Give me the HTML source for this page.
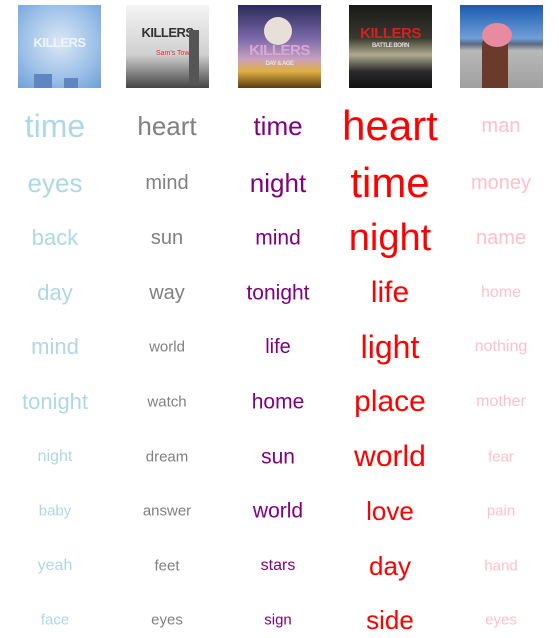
<!DOCTYPE html>
<html><head><meta charset="utf-8"><style>
body{margin:0;background:#fff;width:559px;height:638px;overflow:hidden;position:relative;font-family:"Liberation Sans",sans-serif}
.cover{position:absolute;top:5px;width:83px;height:83px;overflow:hidden}
.cover .t{position:absolute;width:100%;text-align:center;font-weight:bold;letter-spacing:-0.5px}
.w{position:absolute;transform:translate(-50%,-50%);white-space:nowrap;line-height:1}
</style></head><body>
<div class="cover" style="left:18px;background:radial-gradient(circle at 50% 45%,#dce8f6,#9cc0e8 60%,#6e9fd8)">
<div class="t" style="top:30px;color:#eef4fb;font-size:13px">KILLERS</div>
<div style="position:absolute;bottom:0;left:16px;width:18px;height:14px;background:#5f86c0"></div>
<div style="position:absolute;bottom:0;left:46px;width:14px;height:10px;background:#5f86c0"></div>
</div>
<div class="cover" style="left:126px;background:linear-gradient(#f4f4f4,#d0d0d0 60%,#444)">
<div class="t" style="top:20px;color:#333;font-size:13px">KILLERS</div>
<div style="position:absolute;top:45px;left:30px;font-size:7px;color:#c33">Sam's Town</div>
<div style="position:absolute;top:25px;right:10px;width:10px;height:55px;background:#555"></div>
</div>
<div class="cover" style="left:238px;background:linear-gradient(#2a2a5a,#7a68a8 40%,#c8a0c0 65%,#e0b040 80%,#5a3a10)">
<div style="position:absolute;top:12px;left:26px;width:28px;height:28px;border-radius:50%;background:#e8e0d8"></div>
<div class="t" style="top:37px;color:#d8a8d8;font-size:15px">KILLERS</div>
<div class="t" style="top:56px;color:#eedde8;font-size:6px">DAY &amp; AGE</div>
</div>
<div class="cover" style="left:349px;background:linear-gradient(#181818,#3a3a30 40%,#b0ac90 60%,#2a2a2a 80%,#111)">
<div class="t" style="top:20px;color:#d42020;font-size:15px">KILLERS</div>
<div class="t" style="top:38px;color:#ddd;font-size:6px">BATTLE BORN</div>
</div>
<div class="cover" style="left:460px;background:linear-gradient(#1a5ab0,#6fa0d8 40%,#5a6a80 47%,#b8b8b8 55%,#a0a0a0)">
<div style="position:absolute;top:30px;left:22px;width:26px;height:53px;background:#6a3a2a;border-radius:10px 10px 0 0"></div>
<div style="position:absolute;top:18px;left:22px;width:30px;height:24px;border-radius:50%;background:#e88aa0"></div>
</div>
<script>
const xs=[55,167,278,390,501];
const ys=[126,183,238,293,347,402,457,511,566,620];
const colors=["#add8e6","#808080","#800080","#ff0000","#ffc0cb"];
const wordsHotFuss=["time","eyes","back","day","mind","tonight","night","baby","yeah","face"];
const sizesHotFuss=[32,26,22,22,22,22,16,15,16,15];
const wordsSamsTown=["heart","mind","sun","way","world","watch","dream","answer","feet","eyes"];
const sizesSamsTown=[26,20,20,20,15,15,15,15,15,15];
const wordsDayAge=["time","night","mind","tonight","life","home","sun","world","stars","sign"];
const sizesDayAge=[26,26,21,21,20,21,21,21,16,15];
const wordsBattleBorn=["heart","time","night","life","light","place","world","love","day","side"];
const sizesBattleBorn=[42,42,38,30,32,30,30,26,26,26];
const wordsWonderful=["man","money","name","home","nothing","mother","fear","pain","hand","eyes"];
const sizesWonderful=[20,20,20,16,16,16,15,15,15,15];
const words=[wordsHotFuss,wordsSamsTown,wordsDayAge,wordsBattleBorn,wordsWonderful];
const sizes=[sizesHotFuss,sizesSamsTown,sizesDayAge,sizesBattleBorn,sizesWonderful];
words.forEach((col,c)=>col.forEach((w,r)=>{
 const el=document.createElement('div');
 el.className='w';
 el.textContent=w;
 el.style.left=xs[c]+'px';el.style.top=ys[r]+'px';
 el.style.fontSize=sizes[c][r]+'px';el.style.color=colors[c];
 
 
 document.body.appendChild(el);
}));
</script>
</body></html>
